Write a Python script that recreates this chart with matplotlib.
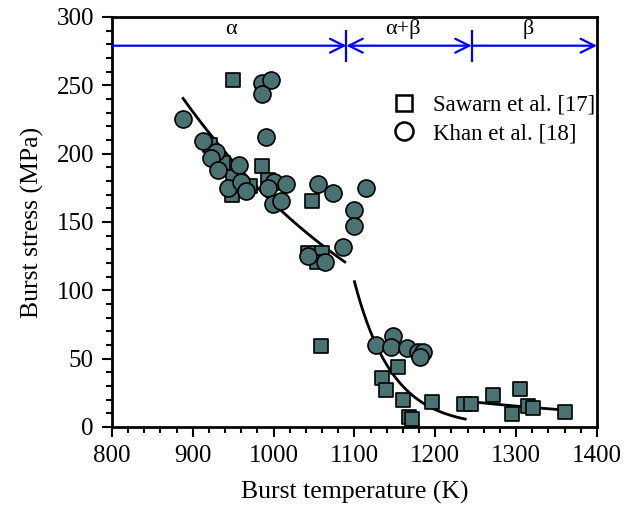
import numpy as np
import matplotlib
matplotlib.use("Agg")
import matplotlib.pyplot as plt
from matplotlib.lines import Line2D
from matplotlib.ticker import MultipleLocator

plt.rcParams['font.family'] = ['Liberation Serif', 'DejaVu Serif']

# Sawarn et al. [17] (squares)
sawarn_T = [950, 921, 937, 950, 948, 971, 985, 993, 1048, 1043, 1060, 1054, 1058,
            1154, 1134, 1139, 1160, 1168, 1171, 1196, 1235, 1244, 1271, 1305, 1295,
            1315, 1321, 1360]
sawarn_S = [254, 206, 193, 183, 170, 176, 191, 181, 165, 127, 127, 121, 59,
            44, 36, 27, 20, 7, 6, 18.5, 16.6, 16.6, 23.4, 27.6, 9.3,
            15.4, 13.7, 11.2]

# Khan et al. [18] (circles)
khan_T = [888, 986, 997, 986, 990, 913, 929, 923, 931, 957, 944, 960, 966, 1000,
          993, 1015, 1055, 1074, 1114, 1100, 1100, 1086, 999, 1009, 1043, 1063,
          1127, 1148, 1145, 1165, 1178, 1185, 1181]
khan_S = [225, 251.5, 254, 244, 212, 209, 201, 197, 188, 192, 175, 179, 173, 179.5,
          175, 178, 178, 171, 175, 159, 147, 132, 163, 165, 125, 121,
          60, 66.6, 58.3, 57.6, 54.6, 54.6, 51.5]

# exponential trend lines: (T_start, T_end, stress at T_start, decay rate)
fits = [(888, 1088, 240.4, 0.00344),
        (1100, 1237, 106.3, 0.02124),
        (1245, 1360, 18.5, 0.00345)]

phase_bounds = [800, 1090, 1245, 1400]
phase_labels = ['α', 'α+β', 'β']
phase_label_x = [947, 1160, 1315]

face = '#4b7272'

fig = plt.figure(figsize=(6.41, 5.15), dpi=100)
ax = fig.add_axes([0.1747, 0.1709, 0.7566, 0.7961])

for t0, t1, s0, b in fits:
    t = np.linspace(t0, t1, 100)
    ax.plot(t, s0 * np.exp(-b * (t - t0)), color='black', lw=2, zorder=2)

ax.scatter(sawarn_T, sawarn_S, marker='s', s=115, facecolor=face,
           edgecolor='black', linewidth=1.2, zorder=3)
ax.scatter(khan_T, khan_S, marker='o', s=150, facecolor=face,
           edgecolor='black', linewidth=1.2, zorder=4)

# phase arrows
y_arr = 279
arrow_kw = dict(color='blue', lw=1.6, mutation_scale=25, shrinkA=0, shrinkB=0)
ax.annotate('', xy=(phase_bounds[1], y_arr), xytext=(phase_bounds[0], y_arr),
            arrowprops=dict(arrowstyle='->', **arrow_kw))
ax.annotate('', xy=(phase_bounds[2], y_arr), xytext=(phase_bounds[1], y_arr),
            arrowprops=dict(arrowstyle='<->', **arrow_kw))
ax.annotate('', xy=(phase_bounds[3], y_arr), xytext=(phase_bounds[2], y_arr),
            arrowprops=dict(arrowstyle='->', **arrow_kw))
for xb in phase_bounds[1:3]:
    ax.plot([xb, xb], [268, 290], color='blue', lw=1.6)
for lx, lab in zip(phase_label_x, phase_labels):
    ax.text(lx, 284, lab, ha='center', va='bottom', fontsize=16)

ax.set_xlim(800, 1400)
ax.set_ylim(0, 300)
ax.xaxis.set_major_locator(MultipleLocator(100))
ax.xaxis.set_minor_locator(MultipleLocator(20))
ax.yaxis.set_major_locator(MultipleLocator(50))
ax.yaxis.set_minor_locator(MultipleLocator(10))
ax.tick_params(which='both', direction='out', top=False, right=False,
               width=1.5, labelsize=18)
ax.tick_params(which='major', length=7, pad=6)
ax.tick_params(which='minor', length=4)
for sp in ax.spines.values():
    sp.set_linewidth(2)

ax.set_xlabel('Burst temperature (K)', fontsize=18.5, labelpad=10)
ax.set_ylabel('Burst stress (MPa)', fontsize=18.5, labelpad=9)

handles = [Line2D([], [], marker='s', ls='none', markersize=12, markerfacecolor='white',
                  markeredgecolor='black', markeredgewidth=1.8),
           Line2D([], [], marker='o', ls='none', markersize=13, markerfacecolor='white',
                  markeredgecolor='black', markeredgewidth=1.8)]
ax.legend(handles, ['Sawarn et al. [17]', 'Khan et al. [18]'], loc='upper left',
          bbox_to_anchor=(0.535, 0.833), frameon=False, fontsize=16.5,
          handletextpad=0.3, labelspacing=0.32, borderaxespad=0)

fig.savefig('out.png', dpi=100)
